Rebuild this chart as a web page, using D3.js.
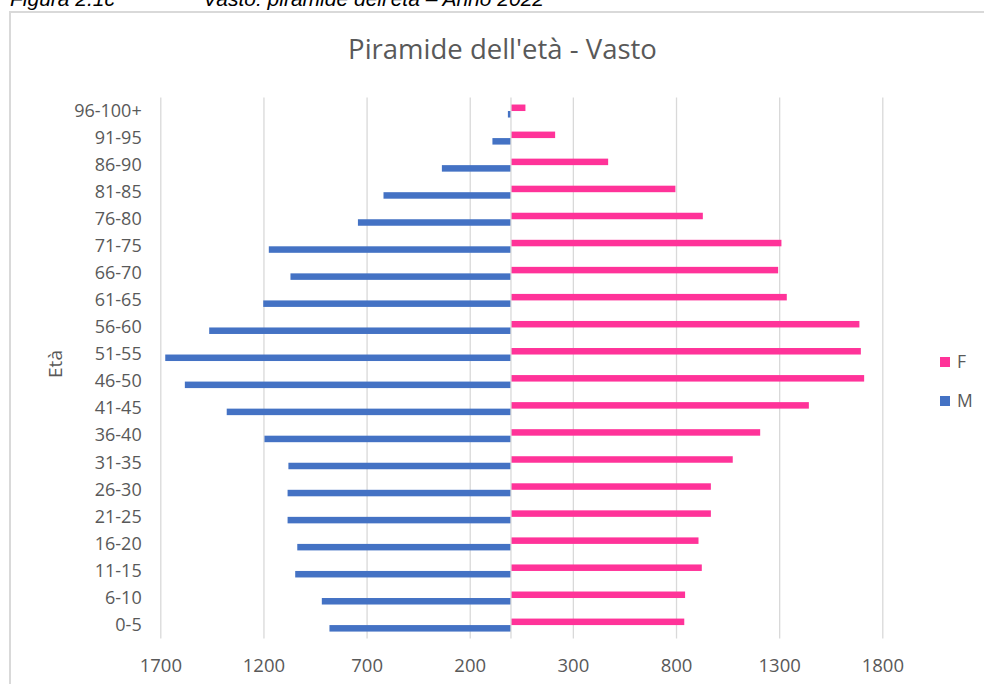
<!DOCTYPE html>
<html lang="it">
<head>
<meta charset="utf-8">
<title>Piramide dell'età - Vasto</title>
<script src="https://cdn.jsdelivr.net/npm/d3@7"></script>
<style>
  html, body { margin: 0; padding: 0; background: #ffffff; }
  svg { display: block; }
  .ui { font-family: "Open Sans", "Noto Sans", sans-serif; fill: #595959; }
</style>
</head>
<body>
<svg id="chart" width="984" height="684"></svg>
<script>
// Age classes, bottom to top
const ageClasses = ["0-5","6-10","11-15","16-20","21-25","26-30","31-35","36-40","41-45","46-50",
                    "51-55","56-60","61-65","66-70","71-75","76-80","81-85","86-90","91-95","96-100+"];
// Residents by age class
const maleCounts   = [880, 917, 1046, 1036, 1083, 1083, 1079, 1195, 1378, 1581,
                      1676, 1463, 1201, 1069, 1174, 742, 618, 335, 90, 15];
const femaleCounts = [840, 844, 925, 909, 969, 969, 1075, 1208, 1444, 1712,
                      1696, 1689, 1337, 1295, 1311, 930, 797, 471, 214, 70];
const seriesNames = ["F", "M"];
const seriesColors = ["#FF3399", "#4472C4"];
const xTickValues = [-1700, -1200, -700, -200, 300, 800, 1300, 1800];

const svg = d3.select("#chart");
const W = 984, H = 684;

// Outer frame of the chart area
svg.append("rect")
  .attr("x", 10).attr("y", 12)
  .attr("width", W + 20).attr("height", H + 20)
  .attr("fill", "#ffffff")
  .attr("stroke", "#d9d9d9").attr("stroke-width", 2);

// Figure caption above the frame
svg.append("text")
  .attr("x", 10).attr("y", 5.5)
  .attr("font-family", "'Liberation Sans', Arial, sans-serif")
  .attr("font-style", "italic").attr("font-size", 21)
  .attr("fill", "#000000")
  .text("Figura 2.1c");
svg.append("text")
  .attr("x", 203).attr("y", 5.5)
  .attr("font-family", "'Liberation Sans', Arial, sans-serif")
  .attr("font-style", "italic").attr("font-size", 21)
  .attr("fill", "#000000")
  .text("Vasto: piramide dell'età – Anno 2022");

// Title
svg.append("text")
  .attr("class", "ui")
  .attr("x", 502.5).attr("y", 59.3)
  .attr("text-anchor", "middle")
  .attr("font-size", 27.5)
  .text("Piramide dell'età - Vasto");

// Plot area
const plot = { left: 160.3, right: 882.3, top: 97.5, bottom: 638.6 };

const x = d3.scaleLinear()
  .domain([xTickValues[0], xTickValues[xTickValues.length - 1]])
  .range([plot.left, plot.right]);

const y = d3.scaleBand()
  .domain(ageClasses.slice().reverse())
  .range([plot.top, plot.bottom])
  .padding(0);

const ySub = d3.scaleBand()
  .domain(seriesNames)
  .range([0, y.bandwidth()])
  .paddingInner(0)
  .paddingOuter(1.08);

// Vertical gridlines and value labels
const xAxis = d3.axisBottom(x)
  .tickValues(xTickValues)
  .tickSize(-(plot.bottom - plot.top))
  .tickPadding(20)
  .tickFormat(d => String(Math.abs(d)));

const gx = svg.append("g")
  .attr("transform", `translate(0,${plot.bottom})`)
  .call(xAxis);
gx.select(".domain").remove();
gx.selectAll(".tick line").attr("stroke", "#d9d9d9").attr("stroke-width", 1.3);
gx.selectAll(".tick text")
  .attr("class", "ui")
  .attr("font-size", 18.5)
  .attr("fill", "#595959");

// Age class labels at the low end of the value axis
const yAxis = d3.axisLeft(y).tickSize(0).tickPadding(18.6);
const gy = svg.append("g")
  .attr("transform", `translate(${plot.left},0)`)
  .call(yAxis);
gy.select(".domain").remove();
gy.selectAll(".tick text")
  .attr("class", "ui")
  .attr("font-size", 18)
  .attr("fill", "#595959");

// Bars
const rows = ageClasses.map((a, i) => ({ age: a, F: femaleCounts[i], M: maleCounts[i] }));

const bars = svg.append("g");
seriesNames.forEach((s, si) => {
  bars.selectAll(`rect.bar-${s}`)
    .data(rows)
    .join("rect")
    .attr("class", `bar-${s}`)
    .attr("x", d => s === "M" ? x(-d.M) : x(0))
    .attr("width", d => s === "M" ? x(0) - x(-d.M) : x(d.F) - x(0))
    .attr("y", d => y(d.age) + ySub(s))
    .attr("height", ySub.bandwidth())
    .attr("fill", seriesColors[si]);
});

// Category axis line at zero
svg.append("line")
  .attr("x1", x(0)).attr("x2", x(0))
  .attr("y1", plot.top).attr("y2", plot.bottom)
  .attr("stroke", "#d9d9d9").attr("stroke-width", 1.3);

// Axis title
svg.append("text")
  .attr("class", "ui")
  .attr("transform", "translate(55,364) rotate(-90)")
  .attr("text-anchor", "middle")
  .attr("dy", "0.35em")
  .attr("font-size", 19)
  .text("Età");

// Legend
const legend = svg.append("g");
const legendY = [357, 396];
seriesNames.forEach((s, i) => {
  legend.append("rect")
    .attr("x", 940).attr("y", legendY[i])
    .attr("width", 10).attr("height", 10)
    .attr("fill", seriesColors[i]);
  legend.append("text")
    .attr("class", "ui")
    .attr("x", 957).attr("y", legendY[i] + 10.8)
    .attr("font-size", 17.5)
    .text(s);
});
</script>
</body>
</html>
